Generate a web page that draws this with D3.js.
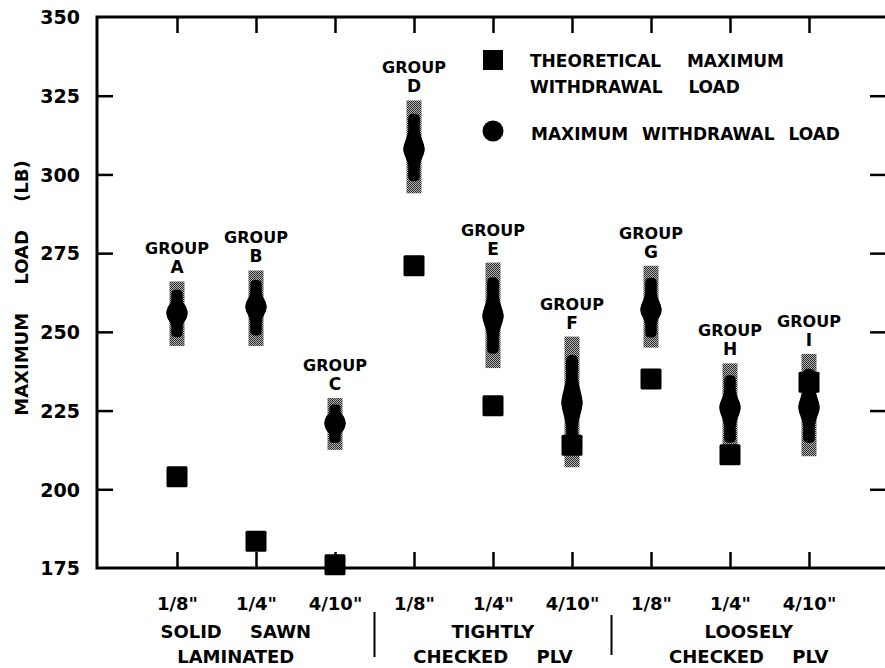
<!DOCTYPE html>
<html>
<head>
<meta charset="utf-8">
<script src="https://cdn.jsdelivr.net/npm/d3@7"></script>
<style>
  html, body { margin: 0; padding: 0; background: #fff; }
  svg { display: block; }
  text { font-family: "DejaVu Sans", sans-serif; font-weight: bold; fill: #000; }
</style>
</head>
<body>
<svg id="chart" width="885" height="668"></svg>
<script>
// ---- data ----
const groups = ["A", "B", "C", "D", "E", "F", "G", "H", "I"];
const spacingLabels = ['1/8"', '1/4"', '4/10"', '1/8"', '1/4"', '4/10"', '1/8"', '1/4"', '4/10"'];
const theoretical = [204, 183.5, 176, 271, 226.5, 214, 235, 211, 234];
const measured = [256, 258, 221, 308, 255, 227.5, 257, 226, 226];
const rangeLow = [245.5, 245.5, 212.5, 294, 238.5, 207, 245, 210.5, 210.5];
const rangeHigh = [266, 269.5, 229, 323.5, 272, 248.5, 271, 240, 243];
const yTicks = [175, 200, 225, 250, 275, 300, 325, 350];
const sectionTop = ["SOLID SAWN", "TIGHTLY", "LOOSELY"];
const sectionBottom = ["LAMINATED", "CHECKED PLV", "CHECKED PLV"];
const sectionStarts = ["A", "D", "G"];
const legendLabels = [["THEORETICAL MAXIMUM", "WITHDRAWAL LOAD"], ["MAXIMUM WITHDRAWAL LOAD"]];

// ---- layout ----
const svg = d3.select("#chart");
const pLeft = 97, pRight = 886, pTop = 17, pBottom = 568;
const x = d3.scalePoint().domain(groups).range([177, 809]);
const y = d3.scaleLinear().domain([175, 350]).range([pBottom, pTop]);
const step = x.step();

// stipple pattern
const defs = svg.append("defs");
const pat = defs.append("pattern").attr("id", "stip").attr("width", 2).attr("height", 2)
  .attr("patternUnits", "userSpaceOnUse");
pat.append("rect").attr("width", 2).attr("height", 2).attr("fill", "#b4b4b4");
pat.append("rect").attr("x", 0).attr("y", 0).attr("width", 1).attr("height", 1).attr("fill", "#2a2a2a");
pat.append("rect").attr("x", 1).attr("y", 1).attr("width", 1).attr("height", 1).attr("fill", "#2a2a2a");

// frame
svg.append("path")
  .attr("d", `M${pRight},${pTop}H${pLeft}V${pBottom}H${pRight}`)
  .attr("fill", "none").attr("stroke", "#000").attr("stroke-width", 3);

// axes
const ax = svg.append("g");
const yLeft = ax.append("g").attr("transform", `translate(${pLeft},0)`)
  .call(d3.axisLeft(y).tickValues(yTicks).tickSize(-16).tickSizeOuter(0).tickPadding(17));
yLeft.selectAll("text").style("font-family", "'DejaVu Sans', sans-serif")
  .style("font-weight", "bold").style("font-size", "19px").attr("dy", "0.36em");
yLeft.selectAll(".tick").filter(d => d === 175 || d === 350).select("line").remove();

ax.append("g").attr("transform", `translate(${pRight},0)`)
  .call(d3.axisRight(y).tickValues(yTicks.filter(d => d !== 175 && d !== 350)).tickSize(-16).tickFormat(""));

const xBot = ax.append("g").attr("transform", `translate(0,${pBottom})`)
  .call(d3.axisBottom(x).tickSize(-16).tickSizeOuter(0).tickPadding(29)
    .tickFormat((d, i) => spacingLabels[i]));
xBot.selectAll("text").style("font-family", "'DejaVu Sans', sans-serif")
  .style("font-weight", "bold").style("font-size", "18px");

ax.append("g").attr("transform", `translate(0,${pTop})`)
  .call(d3.axisTop(x).tickSize(-16).tickSizeOuter(0).tickFormat(""));

ax.selectAll(".domain").remove();
ax.selectAll(".tick line").attr("stroke", "#000").attr("stroke-width", 2.5);

// y title
svg.append("text")
  .attr("transform", "translate(28,288) rotate(-90)")
  .attr("text-anchor", "middle")
  .style("font-size", "18px").style("word-spacing", "22px")
  .text("MAXIMUM LOAD (LB)");

// section labels and dividers
const bounds = [pLeft];
sectionStarts.slice(1).forEach(g => bounds.push(x(g) - step / 2));
bounds.push(pRight);
sectionTop.forEach((t, i) => {
  const cx = (bounds[i] + bounds[i + 1]) / 2;
  svg.append("text").attr("x", cx).attr("y", 638).attr("text-anchor", "middle")
    .style("font-size", "18px").style("word-spacing", "22px").text(t);
  svg.append("text").attr("x", cx).attr("y", 663).attr("text-anchor", "middle")
    .style("font-size", "18px").style("word-spacing", "22px").text(sectionBottom[i]);
});
bounds.slice(1, 3).forEach((bx, i) => {
  svg.append("line").attr("x1", bx).attr("x2", bx)
    .attr("y1", i === 0 ? 612 : 615).attr("y2", i === 0 ? 657 : 655)
    .attr("stroke", "#000").attr("stroke-width", 2);
});

// data marks
const rows = groups.map((g, i) => ({
  g, th: theoretical[i], m: measured[i], lo: rangeLow[i], hi: rangeHigh[i]
}));

const marks = svg.append("g");
marks.selectAll("rect.range").data(rows).join("rect").attr("class", "range")
  .attr("x", d => x(d.g) - 7.5).attr("width", 15)
  .attr("y", d => y(d.hi)).attr("height", d => y(d.lo) - y(d.hi))
  .attr("fill", "url(#stip)");

marks.selectAll("path.core").data(rows).join("path").attr("class", "core")
  .attr("d", d => {
    const cx = x(d.g), cm = y(d.m);
    const t = cm - (cm - y(d.hi)) * 0.7;
    const b = cm + (y(d.lo) - cm) * 0.7;
    const pts = [
      [cx - 4.5, t], [cx - 6, (t + cm) / 2], [cx - 10.5, cm], [cx - 6, (b + cm) / 2], [cx - 4.5, b],
      [cx + 4.5, b], [cx + 6, (b + cm) / 2], [cx + 10.5, cm], [cx + 6, (t + cm) / 2], [cx + 4.5, t]
    ];
    return d3.line().curve(d3.curveCatmullRomClosed.alpha(0.5))(pts);
  })
  .attr("fill", "#000");

marks.selectAll("ellipse.meas").data(rows).join("ellipse").attr("class", "meas")
  .attr("cx", d => x(d.g)).attr("cy", d => y(d.m))
  .attr("rx", 10.5).attr("ry", 12).attr("fill", "#000");

marks.selectAll("rect.theo").data(rows).join("rect").attr("class", "theo")
  .attr("x", d => x(d.g) - 10.5).attr("y", d => y(d.th) - 10.5)
  .attr("width", 21).attr("height", 21).attr("rx", 1.5).attr("fill", "#000");

// group labels
const lab = svg.append("g").attr("text-anchor", "middle").style("font-size", "16px");
lab.selectAll("text.grp").data(rows).join("text").attr("class", "grp")
  .attr("x", d => x(d.g)).attr("y", d => y(d.hi) - 27).text("GROUP");
lab.selectAll("text.let").data(rows).join("text").attr("class", "let")
  .attr("x", d => x(d.g)).attr("y", d => y(d.hi) - 8).style("font-size", "17px").text(d => d.g);

// legend
const lg = svg.append("g");
lg.append("rect").attr("x", 483).attr("y", 50).attr("width", 20).attr("height", 20).attr("fill", "#000");
lg.append("circle").attr("cx", 493).attr("cy", 131).attr("r", 10.5).attr("fill", "#000");
legendLabels[0].forEach((t, i) => {
  lg.append("text").attr("x", 530).attr("y", 67 + i * 26)
    .style("font-size", "17px").style("word-spacing", "20px").text(t);
});
lg.append("text").attr("x", 531).attr("y", 140)
  .style("font-size", "17px").style("word-spacing", "8px").text(legendLabels[1][0]);
</script>
</body>
</html>
